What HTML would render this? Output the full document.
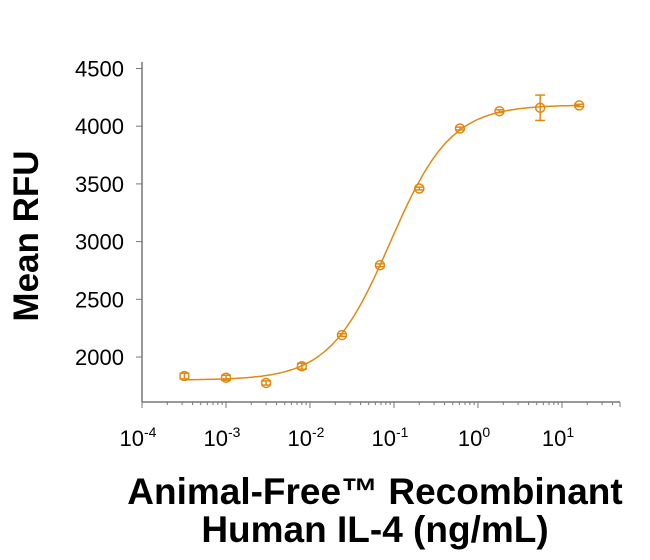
<!DOCTYPE html>
<html><head><meta charset="utf-8"><style>
body{margin:0;background:#fff;}
svg text{font-family:"Liberation Sans",Arial,sans-serif;fill:#000;}
</style></head><body>
<svg id="chart" width="650" height="555" viewBox="0 0 650 555" xmlns="http://www.w3.org/2000/svg">
<g id="axes"></g>
<g id="series"></g>
<text transform="translate(38,236) rotate(-90)" text-anchor="middle" font-size="35" font-weight="bold">Mean RFU</text>
<text x="375" y="504" text-anchor="middle" font-size="37" font-weight="bold">Animal-Free™ Recombinant</text>
<text x="375" y="542" text-anchor="middle" font-size="37" font-weight="bold">Human IL-4 (ng/mL)</text>
</svg>
<script>
const concentrations=[0.00032,0.001,0.003,0.008,0.024,0.068,0.2,0.61,1.8,5.5,16];
const meanRFU=[1835,1820,1775,1920,2190,2795,3460,3980,4130,4160,4180];
const errRFU=[25,22,18,25,12,12,12,12,12,110,10];
const fitParams=[1800,4185,0.09,1.2];
const yTicks=[2000,2500,3000,3500,4000,4500];
const xDecades=[-4,-3,-2,-1,0,1];
const NS="http://www.w3.org/2000/svg";
const C="#e08a14";
function X(v){return 142+(Math.log10(v)+4)*84;}
function Y(v){return 357-(v-2000)/500*57.7;}
function mk(t,a,p){const e=document.createElementNS(NS,t);for(const k in a)e.setAttribute(k,a[k]);p.appendChild(e);return e;}
const ax=document.getElementById('axes');
let e=mk('line',{x1:142,y1:62,x2:142,y2:402,stroke:'#777','stroke-width':1.5},ax);


e=mk('line',{x1:142,y1:402,x2:620,y2:402,stroke:'#777','stroke-width':1.5},ax);


yTicks.forEach(v=>{
 mk('line',{x1:136,y1:Y(v),x2:142,y2:Y(v),stroke:'#777'},ax);
 const t=mk('text',{x:124,y:Y(v)+8,'text-anchor':'end','font-size':22},ax);
 t.textContent=v;
 
 
});
for(let d=-4;d<=1;d++){
 for(let m=1;m<10;m++){
  const lx=142+(d+4+Math.log10(m))*84; if(lx>620)break;
  mk('line',{x1:lx,y1:402,x2:lx,y2:m==1?408:405,stroke:'#777'},ax);
 }
}
mk('line',{x1:620,y1:402,x2:620,y2:407,stroke:'#777'},ax);
xDecades.forEach(d=>{
 const t=mk('text',{x:142+(d+4)*84-4,y:446,'text-anchor':'middle','font-size':22},ax);
 t.textContent='10';
 const s=mk('tspan',{dy:-9,'font-size':14},t);s.textContent=String(d);
 
 
});
const sg=document.getElementById('series');
function fit(x){const[b,t,ec,h]=fitParams;return b+(t-b)/(1+Math.pow(ec/x,h));}
let d='';const lo=Math.log10(concentrations[0]),hi=Math.log10(concentrations[concentrations.length-1]);
for(let i=0;i<=200;i++){const lx=lo+(hi-lo)*i/200,x=Math.pow(10,lx);d+=(i?'L':'M')+X(x).toFixed(1)+','+Y(fit(x)).toFixed(1);}
e=mk('path',{d:d,fill:'none',stroke:C,'stroke-width':1.5},sg);


concentrations.forEach((c,i)=>{
 const x=X(c),y=Y(meanRFU[i]),e1=Y(meanRFU[i]+errRFU[i]),e2=Y(meanRFU[i]-errRFU[i]);
 const g=mk('g',{},sg);
 
 
 mk('line',{x1:x,y1:e1,x2:x,y2:e2,stroke:C,'stroke-width':1.5},g);
 mk('line',{x1:x-5,y1:e1,x2:x+5,y2:e1,stroke:C,'stroke-width':1.5},g);
 mk('line',{x1:x-5,y1:e2,x2:x+5,y2:e2,stroke:C,'stroke-width':1.5},g);
 mk('circle',{cx:x,cy:y,r:4.5,fill:'#fff','fill-opacity':0,stroke:C,'stroke-width':1.5},g);
});
</script>
</body></html>
